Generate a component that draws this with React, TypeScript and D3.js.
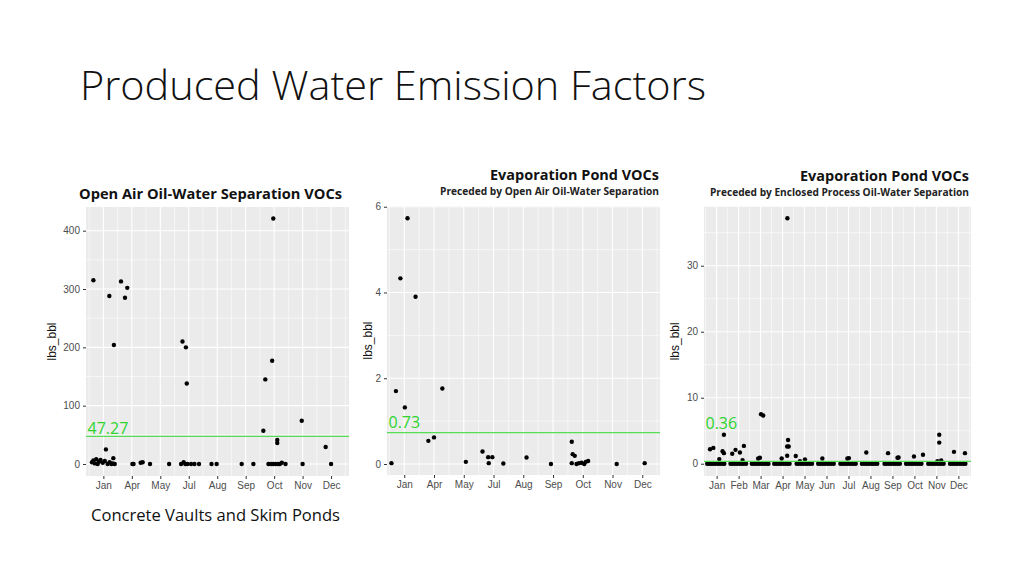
import { useEffect, useRef } from 'react';
import * as d3 from 'd3';

// axis labels (the first two panels have an uneven date axis, read as shown)
const openAirTickLabels = ['Jan', 'Apr', 'May', 'Jul', 'Aug', 'Sep', 'Oct', 'Nov', 'Dec'];
const pondOpenTickLabels = ['Jan', 'Apr', 'May', 'Jul', 'Aug', 'Sep', 'Oct', 'Nov', 'Dec'];
const enclosedTickLabels = ['Jan', 'Feb', 'Mar', 'Apr', 'May', 'Jun', 'Jul', 'Aug', 'Sep', 'Oct', 'Nov', 'Dec'];

const openAirYTicks = [0, 100, 200, 300, 400];
const pondOpenYTicks = [0, 2, 4, 6];
const enclosedYTicks = [0, 10, 20, 30];

// median emission factors (green lines)
const medianValues = [47.27, 0.73, 0.36];

// [position along x axis in tick units, lbs_bbl]
const openAirPoints: [number, number][] = [
    [-0.35, 315], [0.21, 288], [0.37, 204], [0.62, 313], [0.76, 285], [0.84, 302],
    [2.78, 210], [2.9, 200], [2.93, 138],
    [5.97, 421], [5.69, 145], [5.93, 177], [5.62, 57], [6.11, 41], [6.11, 36],
    [6.97, 74], [7.81, 29], [0.09, 25], [0.35, 10],
    [-0.4, 3], [-0.35, 6], [-0.3, 1], [-0.25, 8], [-0.2, 0], [-0.15, 4], [-0.1, 7],
    [-0.02, 2], [0.05, 5], [0.15, 0], [0.22, 3], [0.28, 0], [0.33, 1], [0.4, 0],
    [1.02, 0], [1.06, 0], [1.31, 2], [1.38, 3], [1.64, 0], [2.31, 0],
    [2.73, 0], [2.82, 3], [2.88, 0], [2.95, 0], [3.08, 0], [3.2, 0], [3.36, 0],
    [3.8, 0], [3.98, 0], [4.86, 0], [5.27, 0],
    [5.8, 0], [5.89, 0], [5.97, 0], [6.05, 0], [6.14, 0], [6.2, 0], [6.27, 2], [6.4, 0],
    [7.0, 0], [8.0, 0],
];

const pondOpenPoints: [number, number][] = [
    [-0.43, 0.02], [-0.28, 1.7], [-0.13, 4.33], [0.02, 1.32], [0.11, 5.73], [0.38, 3.9],
    [0.81, 0.54], [1.0, 0.62], [1.28, 1.76], [2.07, 0.05], [2.63, 0.29],
    [2.82, 0.16], [2.96, 0.16], [2.84, 0.02], [3.33, 0.01], [4.11, 0.15], [4.93, 0],
    [5.63, 0.52], [5.66, 0.23], [5.73, 0.19], [5.63, 0.02],
    [5.79, 0], [5.87, 0.02], [5.96, 0.03], [6.05, 0], [6.1, 0.05], [6.18, 0.07],
    [7.14, 0], [8.08, 0.02],
];

const enclosedPoints: [number, number][] = [
    [-0.3, 2.2], [-0.15, 2.4], [0.33, 4.4], [0.27, 1.9], [0.33, 1.6], [0.12, 0.7],
    [0.71, 1.5], [0.86, 2.1], [1.06, 1.7], [1.24, 2.7], [1.18, 0.55],
    [2.02, 7.5], [2.12, 7.3], [1.89, 0.8], [1.97, 0.9],
    [3.22, 37.2], [2.96, 0.8], [3.25, 3.6], [3.21, 2.6], [3.28, 2.6], [3.21, 1.2],
    [3.6, 1.16], [4.02, 0.66], [3.79, 0.4],
    [4.81, 0.8], [5.95, 0.8], [6.02, 0.85], [6.81, 1.7],
    [7.8, 1.6], [8.23, 0.9], [8.28, 0.95], [8.98, 1.1], [9.39, 1.35],
    [10.13, 4.4], [10.13, 3.2], [10.05, 0.4], [10.22, 0.5],
    [10.8, 1.8], [11.3, 1.6],
];

// dense near-zero readings in the third panel, one row per month (offset from month tick)
const enclosedZeroOffsets: number[][] = [
    [-0.43, -0.33, -0.23, -0.13, -0.03, 0.07, 0.17, 0.27, 0.35],
    [-0.37, -0.27, -0.17, -0.07, 0.03, 0.13, 0.23, 0.34],
    [-0.4, -0.3, -0.2, -0.1, 0.0, 0.1, 0.2, 0.3, 0.36],
    [-0.38, -0.28, -0.18, -0.08, 0.02, 0.12, 0.22, 0.32],
    [-0.36, -0.26, -0.16, -0.06, 0.04, 0.14, 0.24, 0.34],
    [-0.38, -0.28, -0.18, -0.08, 0.02, 0.12, 0.22, 0.33],
    [-0.37, -0.27, -0.17, -0.07, 0.03, 0.13, 0.23, 0.33],
    [-0.39, -0.29, -0.19, -0.09, 0.01, 0.11, 0.21, 0.31],
    [-0.36, -0.26, -0.16, -0.06, 0.04, 0.14, 0.24, 0.34],
    [-0.38, -0.28, -0.18, -0.08, 0.02, 0.12, 0.22, 0.32],
    [-0.37, -0.27, -0.17, -0.07, 0.03, 0.13, 0.23, 0.33],
    [-0.38, -0.28, -0.18, -0.08, 0.02, 0.12, 0.22, 0.32],
];

const PANEL_BG = '#EBEBEB';
const GREEN_LINE = '#55DD55';
const GREEN_TEXT = '#2ED42E';
const AXIS_FONT = '"Liberation Sans", Arial, sans-serif';
const TITLE_FONT = '"Open Sans", "Noto Sans", sans-serif';

const drawPanel = (svg, p) => {
    const x = d3.scaleLinear().domain(p.xDomain).range([p.left, p.right]);
    const y = d3.scaleLinear().domain(p.yDomain).range([p.bottom, p.top]);
    const g = svg.append('g');

    g.append('rect')
        .attr('x', p.left).attr('y', p.top)
        .attr('width', p.right - p.left).attr('height', p.bottom - p.top)
        .attr('fill', PANEL_BG);

    // minor grid
    const xIdx = p.tickLabels.map((_, i) => i);
    const xMinor = [-0.5, ...xIdx.map((i) => i + 0.5)]
        .filter((v) => v > p.xDomain[0] && v < p.xDomain[1]);
    g.append('g').selectAll('line').data(xMinor).join('line')
        .attr('x1', (d) => x(d)).attr('x2', (d) => x(d))
        .attr('y1', p.top).attr('y2', p.bottom)
        .attr('stroke', '#fff').attr('stroke-width', 0.55);
    g.append('g').selectAll('line').data(p.yMinor).join('line')
        .attr('x1', p.left).attr('x2', p.right)
        .attr('y1', (d) => y(d)).attr('y2', (d) => y(d))
        .attr('stroke', '#fff').attr('stroke-width', 0.55);

    // major grid
    g.append('g').selectAll('line').data(xIdx).join('line')
        .attr('x1', (d) => x(d)).attr('x2', (d) => x(d))
        .attr('y1', p.top).attr('y2', p.bottom)
        .attr('stroke', '#fff').attr('stroke-width', 1.1);
    g.append('g').selectAll('line').data(p.yTicks).join('line')
        .attr('x1', p.left).attr('x2', p.right)
        .attr('y1', (d) => y(d)).attr('y2', (d) => y(d))
        .attr('stroke', '#fff').attr('stroke-width', 1.1);

    // axes
    const xAxis = d3.axisBottom(x).tickValues(xIdx).tickSize(3).tickPadding(3)
        .tickFormat((d) => p.tickLabels[d]);
    g.append('g')
        .attr('transform', `translate(0,${p.bottom})`)
        .call(xAxis)
        .call((a) => a.select('.domain').remove())
        .call((a) => a.selectAll('line').attr('stroke', '#333'))
        .call((a) => a.selectAll('text').attr('fill', '#4D4D4D')
            .style('font-family', AXIS_FONT).style('font-size', '10px'));

    const yAxis = d3.axisLeft(y).tickValues(p.yTicks).tickSize(3).tickPadding(3)
        .tickFormat((d) => String(d));
    g.append('g')
        .attr('transform', `translate(${p.left},0)`)
        .call(yAxis)
        .call((a) => a.select('.domain').remove())
        .call((a) => a.selectAll('line').attr('stroke', '#333'))
        .call((a) => a.selectAll('text').attr('fill', '#4D4D4D')
            .style('font-family', AXIS_FONT).style('font-size', '10px'));

    g.append('text')
        .attr('transform', `translate(${p.yTitleX},${(p.top + p.bottom) / 2}) rotate(-90)`)
        .attr('text-anchor', 'middle')
        .attr('dy', '0.35em')
        .style('font-family', AXIS_FONT)
        .style('font-size', '12px')
        .attr('fill', '#111')
        .text('lbs_bbl');

    // points
    g.append('g').selectAll('circle').data(p.points).join('circle')
        .attr('cx', (d) => x(d[0])).attr('cy', (d) => y(d[1]))
        .attr('r', 2.2).attr('fill', '#000');

    // median line
    g.append('line')
        .attr('x1', p.left).attr('x2', p.right)
        .attr('y1', y(p.median)).attr('y2', y(p.median))
        .attr('stroke', GREEN_LINE).attr('stroke-width', 1.3);
    g.append('text')
        .attr('x', p.left + 1.5).attr('y', p.labelY)
        .attr('fill', GREEN_TEXT)
        .style('font-family', TITLE_FONT)
        .style('font-size', '16px')
        .text(String(p.median));

    // titles
    g.append('text')
        .attr('x', p.titleX).attr('y', p.titleY)
        .attr('text-anchor', p.titleAnchor)
        .attr('textLength', p.titleLen).attr('lengthAdjust', 'spacingAndGlyphs')
        .style('font-family', TITLE_FONT).style('font-weight', 700).style('font-size', '14px')
        .attr('fill', '#111')
        .text(p.title);
    if (p.subtitle) {
        g.append('text')
            .attr('x', p.titleX).attr('y', p.subtitleY)
            .attr('text-anchor', p.titleAnchor)
            .attr('textLength', p.subtitleLen).attr('lengthAdjust', 'spacingAndGlyphs')
            .style('font-family', TITLE_FONT).style('font-weight', 700).style('font-size', '11px')
            .attr('fill', '#222')
            .text(p.subtitle);
    }
};

export default function App() {
    const svgRef = useRef(null);

    useEffect(() => {
        const svg = d3.select(svgRef.current);
        svg.selectAll('*').remove();

        svg.append('rect').attr('width', 1024).attr('height', 576).attr('fill', '#fff');

        svg.append('text')
            .attr('x', 80).attr('y', 100)
            .attr('textLength', 626).attr('lengthAdjust', 'spacingAndGlyphs')
            .style('font-family', TITLE_FONT).style('font-weight', 300).style('font-size', '40px')
            .attr('fill', '#111')
            .text('Produced Water Emission Factors');

        svg.append('text')
            .attr('x', 91).attr('y', 521)
            .attr('textLength', 249).attr('lengthAdjust', 'spacingAndGlyphs')
            .style('font-family', TITLE_FONT).style('font-size', '16px')
            .attr('fill', '#111')
            .text('Concrete Vaults and Skim Ponds');

        const enclosedAll = [
            ...enclosedZeroOffsets.flatMap((row, m) => row.map((o) => [m + o, 0])),
            ...enclosedPoints,
        ];

        drawPanel(svg, {
            left: 86, right: 349, top: 207, bottom: 476,
            xDomain: [-0.61, 8.63], yDomain: [-20.6, 440.6],
            tickLabels: openAirTickLabels, yTicks: openAirYTicks, yMinor: [50, 150, 250, 350],
            points: openAirPoints, median: medianValues[0], labelY: 433.5,
            yTitleX: 52,
            title: 'Open Air Oil-Water Separation VOCs', titleX: 79, titleY: 198.5,
            titleAnchor: 'start', titleLen: 263,
        });
        drawPanel(svg, {
            left: 387, right: 660, top: 206, bottom: 475,
            xDomain: [-0.58, 8.595], yDomain: [-0.2565, 6.017],
            tickLabels: pondOpenTickLabels, yTicks: pondOpenYTicks, yMinor: [1, 3, 5],
            points: pondOpenPoints, median: medianValues[1], labelY: 428,
            yTitleX: 368,
            title: 'Evaporation  Pond VOCs', titleX: 659, titleY: 180,
            titleAnchor: 'end', titleLen: 169,
            subtitle: 'Preceded by Open Air Oil-Water Separation', subtitleY: 195, subtitleLen: 219,
        });
        drawPanel(svg, {
            left: 704, right: 971, top: 206.7, bottom: 476,
            xDomain: [-0.575, 11.575], yDomain: [-1.86, 38.94],
            tickLabels: enclosedTickLabels, yTicks: enclosedYTicks, yMinor: [5, 15, 25, 35],
            points: enclosedAll, median: medianValues[2], labelY: 428.5,
            yTitleX: 675,
            title: 'Evaporation  Pond VOCs', titleX: 969, titleY: 180.5,
            titleAnchor: 'end', titleLen: 169,
            subtitle: 'Preceded by Enclosed Process Oil-Water Separation', subtitleY: 196, subtitleLen: 259,
        });
    }, []);

    return (
        <svg ref={svgRef} width={1024} height={576}
            style={{ position: 'absolute', left: 0, top: 0, display: 'block' }} />
    );
}
